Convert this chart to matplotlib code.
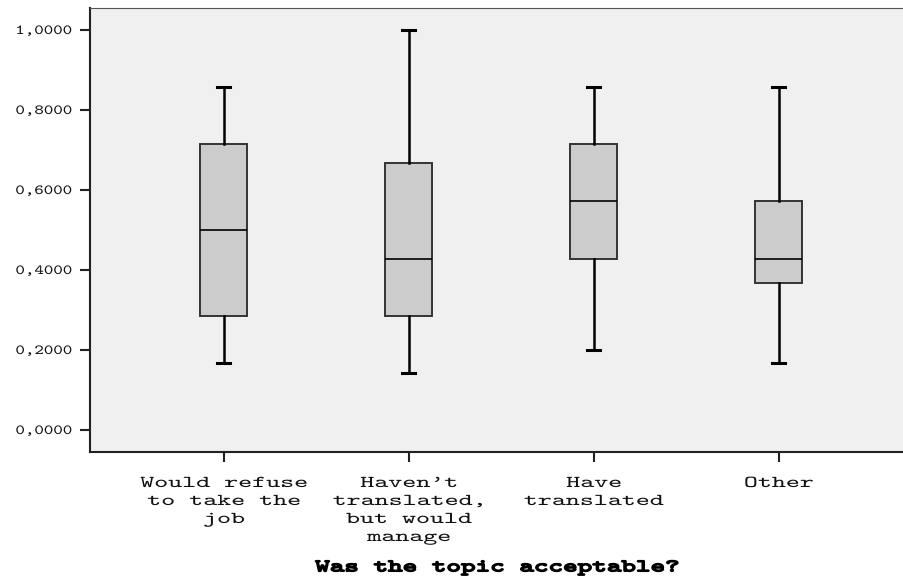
import matplotlib
matplotlib.use("Agg")
import matplotlib.pyplot as plt
from matplotlib import patheffects
from matplotlib.ticker import FuncFormatter
from matplotlib.transforms import Affine2D

# Boxplot summary per answer group (proportion score)
categories = [
    "Would refuse\nto take the\njob",
    "Haven't\ntranslated,\nbut would\nmanage",
    "Have\ntranslated",
    "Other",
]
whisker_low = [0.1667, 0.1429, 0.2000, 0.1667]
q1 = [0.2857, 0.2857, 0.4286, 0.3667]
median = [0.5000, 0.4286, 0.5714, 0.4286]
q3 = [0.7143, 0.6667, 0.7143, 0.5714]
whisker_high = [0.8571, 1.0000, 0.8571, 0.8571]
y_ticks = [0.0, 0.2, 0.4, 0.6, 0.8, 1.0]


class WideText(patheffects.AbstractPathEffect):
    """Draw text glyphs stretched horizontally (wide typewriter look)."""

    def __init__(self, sx=1.5, anchor="center", bold=0.0):
        super().__init__()
        self.sx = sx
        self.anchor = anchor
        self.bold = bold

    def draw_path(self, renderer, gc, tpath, affine, rgbFace=None):
        ext = tpath.get_extents(affine)
        if self.anchor == "right":
            cx = ext.x1
        else:
            cx = (ext.x0 + ext.x1) / 2
        t = affine + Affine2D().translate(-cx, 0).scale(self.sx, 1).translate(cx, 0)
        gc0 = renderer.new_gc()
        gc0.copy_properties(gc)
        if self.bold:
            gc0.set_linewidth(self.bold)
            gc0.set_foreground(rgbFace)
        renderer.draw_path(gc0, tpath, t, rgbFace)
        gc0.restore()


font = ["cmtt10", "DejaVu Sans Mono"]

fig = plt.figure(figsize=(9.04, 5.76), dpi=100)
ax = fig.add_axes([90 / 904, 124 / 576, 1 - 90 / 904, 444 / 576])
ax.set_facecolor("#f0f0f0")

stats = []
for i in range(len(categories)):
    stats.append({
        "whislo": whisker_low[i], "q1": q1[i], "med": median[i],
        "q3": q3[i], "whishi": whisker_high[i], "fliers": [],
    })

ax.bxp(
    stats, positions=range(len(categories)), widths=0.254, capwidths=0.07,
    patch_artist=True, showfliers=False,
    boxprops=dict(facecolor="#cccccc", edgecolor="#333333", linewidth=1.4),
    medianprops=dict(color="black", linewidth=1.2),
    whiskerprops=dict(color="black", linewidth=1.8),
    capprops=dict(color="black", linewidth=2.2),
)

ax.set_xlim(-0.724, 3.676)
ax.set_ylim(-0.055, 1.055)

ax.set_yticks(y_ticks)
ax.yaxis.set_major_formatter(FuncFormatter(lambda v, _: f"{v:.4f}".replace(".", ",")))
ax.set_xticks(range(len(categories)))
ax.set_xticklabels(categories, linespacing=1.4)

for s in ["left", "bottom"]:
    ax.spines[s].set_linewidth(1.5)
    ax.spines[s].set_color("#222222")
ax.spines["top"].set_linewidth(0.8)
ax.spines["top"].set_color("#555555")
ax.spines["right"].set_visible(False)

ax.tick_params(axis="both", direction="out", length=7, width=1.5, color="#222222")
ax.tick_params(axis="y", pad=6)
ax.tick_params(axis="x", pad=11)

for lbl in ax.get_yticklabels():
    lbl.set_family(font)
    lbl.set_fontsize(10)
    lbl.set_color("#111111")
    lbl.set_path_effects([WideText(sx=1.3, anchor="right")])
for lbl in ax.get_xticklabels():
    lbl.set_family(font)
    lbl.set_fontsize(12)
    lbl.set_color("#111111")
    lbl.set_path_effects([WideText(sx=1.6)])

ax.set_xlabel("Was the topic acceptable?", family=font, fontsize=12.5,
              labelpad=11, path_effects=[WideText(sx=1.6, bold=1.1)])

fig.savefig("out.png", dpi=100, facecolor="white")
